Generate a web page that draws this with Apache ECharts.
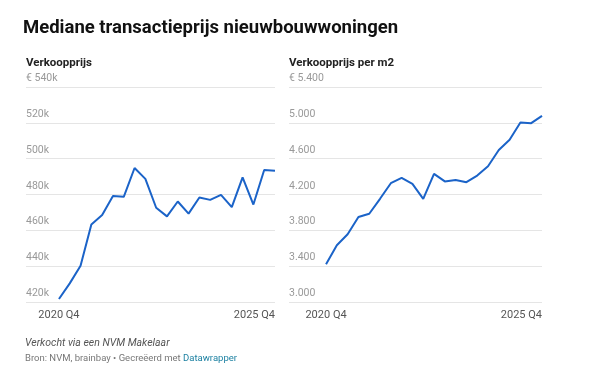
<!DOCTYPE html>
<html><head><meta charset="utf-8">
<script src="https://cdn.jsdelivr.net/npm/echarts@6/dist/echarts.min.js"></script>
<style>html,body{margin:0;padding:0;background:#fff}#c{width:600px;height:375px}</style>
</head><body><div id="c"></div>
<script>
var quarters = ['2020 Q4','2021 Q1','2021 Q2','2021 Q3','2021 Q4','2022 Q1','2022 Q2','2022 Q3','2022 Q4','2023 Q1','2023 Q2','2023 Q3','2023 Q4','2024 Q1','2024 Q2','2024 Q3','2024 Q4','2025 Q1','2025 Q2','2025 Q3','2025 Q4'];
var shownXLabels = ['2020 Q4','2025 Q4'];
var priceK = [421.7,430.4,440.2,463.3,468.5,479.1,478.7,494.8,488.7,472.6,467.8,476.1,469.3,478.3,477.0,479.8,473.0,489.6,474.4,493.7,493.3];
var pricePerM2 = [3422,3633,3756,3948,3985,4152,4326,4385,4319,4152,4430,4346,4363,4337,4411,4515,4696,4811,5004,4996,5078];
var leftTicks = [420,440,460,480,500,520,540];
var rightTicks = [3000,3400,3800,4200,4600,5000,5400];

var FONT = 'Roboto, "Noto Sans", sans-serif';
var BLUE = '#1b63c8';

function pairs(arr){ return arr.map(function(v,i){ return [i,v]; }); }
function nl(v){ var t = Math.floor(v/1000), r = v%1000; return t>0 ? t+'.'+String(r).padStart(3,'0') : String(r); }
var customX = shownXLabels.map(function(l){ return quarters.indexOf(l); });

function xAxis(idx, min){
  return {gridIndex: idx, type:'value', min:min, max:quarters.length-1,
    axisLine:{show:false}, axisTick:{show:false}, splitLine:{show:false},
    axisLabel:{customValues: customX, formatter:function(v){ return quarters[Math.round(v)]; },
      color:'#555', fontSize:11, fontFamily:FONT, margin:8, alignMaxLabel:'right'}};
}
function yAxis(idx, ticks, fmt){
  return {gridIndex: idx, type:'value', min:ticks[0], max:ticks[ticks.length-1], interval:ticks[1]-ticks[0],
    axisLine:{show:false}, axisTick:{show:false},
    splitLine:{lineStyle:{color:'#e5e5e5', width:1}},
    axisLabel:{inside:true, margin:0, verticalAlign:'bottom', padding:[0,0,3,0], color:'#999', fontSize:10.5, fontFamily:FONT, formatter:fmt}};
}

var chart = echarts.init(document.getElementById('c'), null, {renderer:'canvas'});
chart.setOption({
  animation:false,
  title:[
    {text:'Mediane transactieprijs nieuwbouwwoningen', left:23, top:19, padding:0, textStyle:{fontFamily:FONT, fontSize:18.5, fontWeight:'bold', color:'#111'}},
    {text:'Verkoopprijs', left:26, top:57, padding:0, textStyle:{fontFamily:FONT, fontSize:11.5, fontWeight:'bold', color:'#222'}},
    {text:'Verkoopprijs per m2', left:289, top:57, padding:0, textStyle:{fontFamily:FONT, fontSize:11.5, fontWeight:'bold', color:'#222'}},
    {text:'Verkocht via een NVM Makelaar', left:25, top:338, padding:0, textStyle:{fontFamily:FONT, fontSize:10.5, fontStyle:'italic', fontWeight:'normal', color:'#555'}},
    {text:'Bron: NVM, brainbay • Gecreëerd met {a|Datawrapper}', left:25, top:354, padding:0, textStyle:{fontFamily:FONT, fontSize:9.5, fontWeight:'normal', color:'#777', rich:{a:{color:'#1d81a2', fontSize:9.5, fontFamily:FONT}}}}
  ],
  grid:[
    {left:26, right:325, top:87, bottom:73},
    {left:289, right:58, top:87, bottom:73}
  ],
  xAxis:[ xAxis(0, -3.05), xAxis(1, -3.43) ],
  yAxis:[
    yAxis(0, leftTicks, function(v){ return v===leftTicks[leftTicks.length-1] ? '€ '+v+'k' : v+'k'; }),
    yAxis(1, rightTicks, function(v){ return v===rightTicks[rightTicks.length-1] ? '€ '+nl(v) : nl(v); })
  ],
  series:[
    {type:'line', xAxisIndex:0, yAxisIndex:0, data:pairs(priceK), showSymbol:false, lineStyle:{color:BLUE, width:2}, silent:true},
    {type:'line', xAxisIndex:1, yAxisIndex:1, data:pairs(pricePerM2), showSymbol:false, lineStyle:{color:BLUE, width:2}, silent:true}
  ]
});
</script></body></html>
